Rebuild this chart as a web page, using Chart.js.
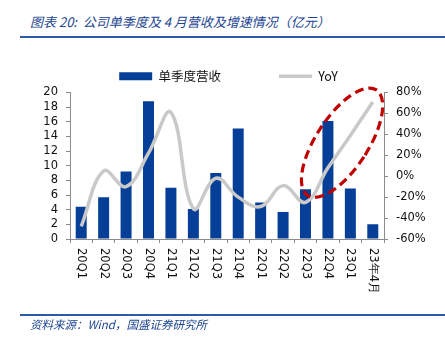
<!DOCTYPE html>
<html>
<head>
<meta charset="utf-8">
<script src="https://cdn.jsdelivr.net/npm/chart.js@4/dist/chart.umd.min.js"></script>
<style>
  html, body { margin: 0; padding: 0; background: #fff; }
  #wrap { position: relative; width: 445px; height: 344px; overflow: hidden; }
  #chart { position: absolute; left: 0; top: 0; }
  .caption { position: absolute; left: 30px; font-style: italic; color: #1d4591; white-space: nowrap;
             font-family: "Noto Sans CJK SC", sans-serif; }
  #title { top: 12px; font-size: 13px; }
  #source { top: 316px; font-size: 11.5px; }
  .rule { position: absolute; left: 20px; right: 0; height: 2px; background: #2d5aa6; }
</style>
</head>
<body>
<div id="wrap">
  <div id="title" class="caption">图表 20:&nbsp; 公司单季度及 4 月营收及增速情况（亿元）</div>
  <div class="rule" style="top:36px"></div>
  <canvas id="chart" width="445" height="344"></canvas>
  <div class="rule" style="top:314px"></div>
  <div id="source" class="caption">资料来源：Wind，国盛证券研究所</div>
</div>
<script>
// Quarterly revenue (亿元) and year-over-year growth (%)
const quarters = ['20Q1', '20Q2', '20Q3', '20Q4', '21Q1', '21Q2', '21Q3', '21Q4',
                  '22Q1', '22Q2', '22Q3', '22Q4', '23Q1', '23年4月'];
const revenue = [4.4, 5.7, 9.2, 18.8, 7.0, 4.1, 9.0, 15.1, 5.0, 3.7, 6.8, 16.1, 6.9, 2.0];
const yoy = [-48, 5, -10, 22, 61, -31, -2, -20, -29, -9, -25, 8, 39, 71];
const revenueTicks = [0, 20, 2];     // min, max, step
const yoyTicks = [-60, 80, 20];      // min, max, step

// Highlight ring around the latest growth run (category index, growth %)
const highlight = { index: 11.63, value: 32 };

const tickFont = { family: '"DejaVu Sans", sans-serif', size: 11.5 };
const axisColor = '#8c8c8c';

// Category labels read top-to-bottom, turned a quarter clockwise
const verticalLabels = {
  id: 'verticalLabels',
  afterDraw(chart) {
    const xs = chart.scales.x, ctx = chart.ctx;
    ctx.save();
    ctx.font = '11.5px "DejaVu Sans", sans-serif';
    ctx.fillStyle = '#111';
    ctx.textAlign = 'left';
    ctx.textBaseline = 'middle';
    quarters.forEach((lab, i) => {
      ctx.save();
      ctx.translate(xs.getPixelForTick(i), xs.top + 9);
      ctx.rotate(Math.PI / 2);
      ctx.fillText(lab, 0, 0);
      ctx.restore();
    });
    ctx.restore();
  }
};

// Dashed red ellipse marking the recent growth rebound
const highlightRing = {
  id: 'highlightRing',
  afterDatasetsDraw(chart) {
    const ctx = chart.ctx;
    const cx = chart.scales.x.getPixelForValue(highlight.index);
    const cy = chart.scales.y1.getPixelForValue(highlight.value);
    ctx.save();
    ctx.strokeStyle = '#c00000';
    ctx.lineWidth = 3.2;
    ctx.setLineDash([9, 5]);
    ctx.beginPath();
    ctx.ellipse(cx, cy, 26, 63, 33 * Math.PI / 180, 0, Math.PI * 2);
    ctx.stroke();
    ctx.restore();
  }
};

new Chart(document.getElementById('chart'), {
  type: 'bar',
  data: {
    labels: quarters,
    datasets: [
      {
        label: '单季度营收',
        data: revenue,
        backgroundColor: '#053f97',
        borderWidth: 0,
        barPercentage: 0.49,
        categoryPercentage: 1,
        pointStyle: 'rect',
        yAxisID: 'y',
        order: 1
      },
      {
        type: 'line',
        label: 'YoY',
        data: yoy,
        borderColor: '#c9c9c9',
        backgroundColor: '#c9c9c9',
        borderWidth: 3.5,
        tension: 0.4,
        pointRadius: 0,
        pointStyle: 'line',
        yAxisID: 'y1',
        order: 0
      }
    ]
  },
  options: {
    responsive: false,
    animation: false,
    layout: { padding: { top: 12, bottom: 0, left: 12, right: 0 } },
    plugins: {
      tooltip: { enabled: false },
      legend: {
        position: 'top',
        labels: {
          usePointStyle: true,
          pointStyleWidth: 33,
          boxWidth: 33,
          boxHeight: 8,
          padding: 58,
          color: '#111',
          font: { family: '"Noto Sans CJK SC", sans-serif', size: 12.5 },
          sort: (a, b) => a.datasetIndex - b.datasetIndex
        }
      }
    },
    scales: {
      x: {
        offset: true,
        grid: { display: true, drawOnChartArea: false, offset: true, tickLength: 4, color: axisColor },
        border: { display: true, color: axisColor },
        ticks: { display: false, autoSkip: false },
        afterFit: s => { s.height = 105; }
      },
      y: {
        position: 'left',
        min: revenueTicks[0], max: revenueTicks[1],
        grid: { display: true, drawOnChartArea: false, tickLength: 4, color: axisColor },
        border: { display: true, color: axisColor },
        ticks: { stepSize: revenueTicks[2], autoSkip: false, color: '#111', font: tickFont, padding: 8 },
        afterFit: s => { s.width = 58; }
      },
      y1: {
        position: 'right',
        min: yoyTicks[0], max: yoyTicks[1],
        grid: { display: true, drawOnChartArea: false, tickLength: 4, color: axisColor },
        border: { display: true, color: axisColor },
        ticks: { stepSize: yoyTicks[2], autoSkip: false, color: '#111', font: tickFont, padding: 8,
                 callback: v => v + '%' },
        afterFit: s => { s.width = 61; }
      }
    }
  },
  plugins: [verticalLabels, highlightRing]
});
</script>
</body>
</html>
